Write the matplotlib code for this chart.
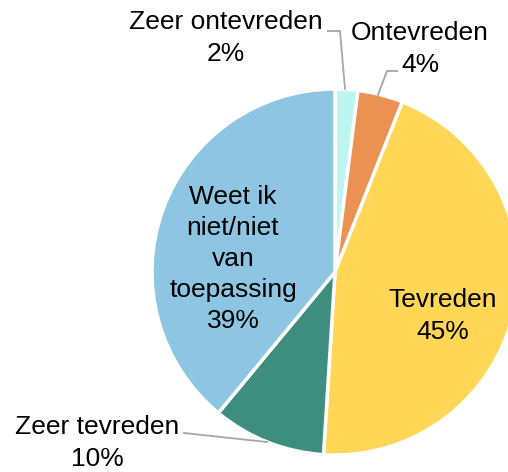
import matplotlib.pyplot as plt

labels = ["Zeer ontevreden", "Ontevreden", "Tevreden", "Zeer tevreden",
          "Weet ik\nniet/niet\nvan\ntoepassing"]
values = [2, 4, 45, 10, 39]
colors = ["#BCF6EF", "#EB9152", "#FFD655", "#3E8E7F", "#8EC5E3"]

plt.rcParams["font.family"] = ["Liberation Sans", "DejaVu Sans"]

fig = plt.figure(figsize=(5.08, 4.72), dpi=100)
ax = fig.add_axes([0, 0, 1, 1])

# pixel -> data helpers (center at 335,272 px, radius 183 px)
cx, cy, r = 335, 272, 183


def px(x, y):
    return (x - cx) / r, (cy - y) / r


wedges, _ = ax.pie(values, colors=colors, startangle=90, counterclock=False,
                   radius=1.0, center=(0, 0),
                   wedgeprops=dict(edgecolor="white", linewidth=2.5))

fs = 19
ls = 1.38
ax.text(*px(233, 259), f"{labels[4]}\n{values[4]}%", ha="center", va="center",
        fontsize=fs, linespacing=ls)
ax.text(*px(443, 316), f"{labels[2]}\n{values[2]}%", ha="center", va="center",
        fontsize=fs, linespacing=ls)

# outside labels
ax.text(*px(226, 38), f"{labels[0]}\n{values[0]}%", ha="center", va="center",
        fontsize=fs, linespacing=ls)
ax.text(*px(420, 49), f"{labels[1]}\n{values[1]}%", ha="center", va="center",
        fontsize=fs, linespacing=ls)
ax.text(*px(97, 443), f"{labels[3]}\n{values[3]}%", ha="center", va="center",
        fontsize=fs, linespacing=ls)

# leader lines
lc = "#A6A6A6"
for pts in ([(328, 31), (340, 31), (345, 89)],
            [(397, 71), (387, 71), (378, 95)],
            [(184, 433), (267, 442)]):
    xs, ys = zip(*[px(*p) for p in pts])
    ax.plot(xs, ys, color=lc, lw=1.3)

ax.set_xlim((0 - cx) / r, (508 - cx) / r)
ax.set_ylim((cy - 472) / r, cy / r)
ax.set_aspect("auto")
ax.axis("off")

fig.savefig("out.png", dpi=100)
